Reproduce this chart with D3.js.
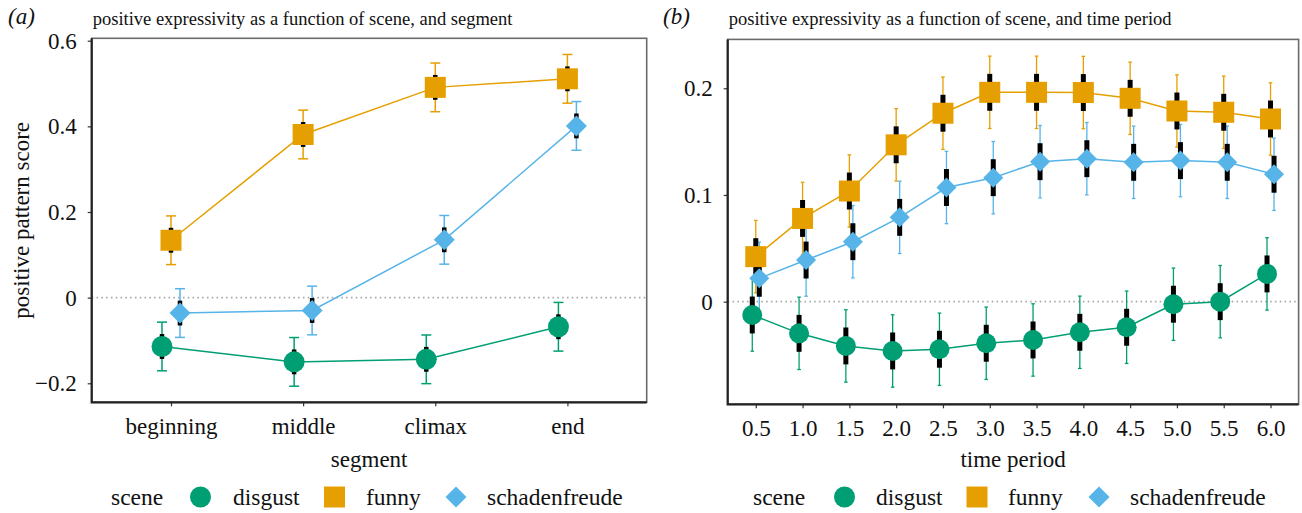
<!DOCTYPE html>
<html><head><meta charset="utf-8">
<script src="https://cdn.jsdelivr.net/npm/d3@7"></script>
<style>body{margin:0;background:#fff}text{font-family:"Liberation Serif","Times New Roman",serif;fill:#111}</style>
</head><body><svg id="c" width="1302" height="513"></svg>
<script>
// ---------- data ----------
const scenes = ["disgust", "funny", "schadenfreude"];
const segments = ["beginning", "middle", "climax", "end"];
const segDisgust = [-0.114, -0.150, -0.144, -0.068];
const segFunny = [0.134, 0.381, 0.491, 0.511];
const segSchaden = [-0.036, -0.030, 0.135, 0.401];
const segSE = [0.029, 0.029, 0.029, 0.029];
const segTicks = [-0.2, 0, 0.2, 0.4, 0.6];

const periods = ["0.5","1.0","1.5","2.0","2.5","3.0","3.5","4.0","4.5","5.0","5.5","6.0"];
const timeDisgust = [-0.0125, -0.0297, -0.0415, -0.0462, -0.0446, -0.039, -0.0359, -0.0287, -0.024, -0.0024, 0.000, 0.026];
const timeFunny = [0.0422, 0.078, 0.1037, 0.147, 0.1766, 0.1962, 0.1962, 0.196, 0.1906, 0.1787, 0.1775, 0.1712];
const timeSchaden = [0.0219, 0.039, 0.0562, 0.079, 0.107, 0.1162, 0.1312, 0.134, 0.1306, 0.1322, 0.1306, 0.1194];
const timeSE = [0.0173, 0.0173, 0.0173, 0.0173, 0.0173, 0.0173, 0.0173, 0.0173, 0.0173, 0.0173, 0.0173, 0.0173];
const timeTicks = [0, 0.1, 0.2];

const colors = {disgust: "#009E73", funny: "#E69F00", schadenfreude: "#56B4E9"};
const FS = "23px";
const FSL = "23.5px";

// ---------- drawing ----------
const svg = d3.select("#c");
svg.append("rect").attr("width",1302).attr("height",513).attr("fill","#fff");

function marker(g, scene, x, y, s) {
  const c = colors[scene];
  if (scene === "disgust") g.append("ellipse").attr("cx",x).attr("cy",y).attr("rx",s.r).attr("ry",s.r).attr("fill",c);
  else if (scene === "funny") g.append("rect").attr("x",x-s.sq/2).attr("y",y-s.sq/2).attr("width",s.sq).attr("height",s.sq).attr("fill",c);
  else g.append("path").attr("d",`M${x},${y-s.dm}L${x+s.dm},${y}L${x},${y+s.dm}L${x-s.dm},${y}Z`).attr("fill",c);
}

function panel(o) {
  const {cats, series, se, ticks, box, ydom, dodgeFrac, tag, title, xtitle, ytitle, sty, fmt} = o;
  const x = d3.scalePoint().domain(cats).range([box.l, box.r]).padding(0.6);
  const y = d3.scaleLinear().domain(ydom).range([box.b, box.t]);
  const g = svg.append("g");
  const step = x.step();
  // zero line
  g.append("line").attr("x1",box.l).attr("x2",box.r).attr("y1",y(0)).attr("y2",y(0))
    .attr("stroke","#aaa").attr("stroke-width",1.6).attr("stroke-dasharray","1.6,3.2");
  const data = scenes.map((s,i)=>({scene:s, vals:series[i], dx:(i-1)*step*dodgeFrac}));
  // CI error bars
  data.forEach(d=>{
    d.vals.forEach((v,j)=>{
      const cx = x(cats[j])+d.dx, lo=y(v-1.96*se[j]), hi=y(v+1.96*se[j]);
      g.append("line").attr("x1",cx).attr("x2",cx).attr("y1",lo).attr("y2",hi).attr("stroke",colors[d.scene]).attr("stroke-width",sty.ew);
      [lo,hi].forEach(yy=>g.append("line").attr("x1",cx-sty.cap).attr("x2",cx+sty.cap).attr("y1",yy).attr("y2",yy).attr("stroke",colors[d.scene]).attr("stroke-width",sty.ew));
    });
  });
  // SE thick black bars
  data.forEach(d=>{
    d.vals.forEach((v,j)=>{
      const cx = x(cats[j])+d.dx;
      g.append("line").attr("x1",cx).attr("x2",cx).attr("y1",y(v-se[j])).attr("y2",y(v+se[j])).attr("stroke","#000").attr("stroke-width",sty.bw);
    });
  });
  // lines
  data.forEach(d=>{
    g.append("path").attr("d", d3.line().x((v,j)=>x(cats[j])+d.dx).y(v=>y(v))(d.vals))
      .attr("fill","none").attr("stroke",colors[d.scene]).attr("stroke-width",sty.lw);
  });
  // points
  data.forEach(d=>d.vals.forEach((v,j)=>marker(g,d.scene,x(cats[j])+d.dx,y(v),sty)));
  // border
  g.append("rect").attr("x",box.l).attr("y",box.t).attr("width",box.r-box.l).attr("height",box.b-box.t)
    .attr("fill","none").attr("stroke","#6b6b6b").attr("stroke-width",1.6);
  // axes
  const ya = g.append("g").attr("transform",`translate(${box.l},0)`)
    .call(d3.axisLeft(y).tickValues(ticks).tickSize(4).tickPadding(11).tickFormat(fmt));
  const xa = g.append("g").attr("transform",`translate(0,${box.b})`)
    .call(d3.axisBottom(x).tickSize(4).tickPadding(11));
  [ya,xa].forEach(a=>{
    a.select(".domain").remove();
    a.selectAll(".tick line").attr("stroke","#333").attr("stroke-width",1.2);
    a.selectAll("text").style("font-family","Liberation Serif").style("font-size",FS).attr("fill","#111");
  });
  g.append("path").attr("d",`M${box.l},${box.t}V${box.b}H${box.r}`).attr("fill","none").attr("stroke","#222").attr("stroke-width",2.2);
  // labels
  g.append("text").attr("x",tag.x).attr("y",24).style("font-size","23px").style("font-style","italic").text(tag.t);
  g.append("text").attr("x",box.l+1).attr("y",25).style("font-size","18.5px").text(title);
  g.append("text").attr("x",(box.l+box.r)/2).attr("y",467).attr("text-anchor","middle").style("font-size",FS).text(xtitle);
  if (ytitle) g.append("text").attr("transform",`translate(29,${(box.t+box.b)/2}) rotate(-90)`).attr("text-anchor","middle").style("font-size",FS).text(ytitle);
  // legend
  const L = o.legend, ly = 497;
  g.append("text").attr("x",L.scene).attr("y",ly).attr("dy","0.32em").style("font-size",FSL).text("scene");
  scenes.forEach((s,i)=>{
    marker(g, s, L.keys[i], ly, {r:10.5, sq:21, dm:10.5});
    g.append("text").attr("x",L.labels[i]).attr("y",ly).attr("dy","0.32em").style("font-size",FSL).text(s);
  });
}

const fmtA = d => d === 0 ? "0" : (d < 0 ? "\u2212" + (-d).toFixed(1) : d.toFixed(1));
panel({cats:segments, series:[segDisgust, segFunny, segSchaden], se:segSE, ticks:segTicks,
  box:{l:91.7, r:646.7, t:38.3, b:402.3}, ydom:[-0.2444, 0.6056], dodgeFrac:0.068,
  tag:{x:8, t:"(a)"}, title:"positive expressivity as a function of scene, and segment",
  xtitle:"segment", ytitle:"positive pattern score", fmt:fmtA,
  sty:{ew:1.5, cap:5, bw:4.5, lw:1.5, r:10.5, sq:21, dm:10.5},
  legend:{scene:111, keys:[200.5, 334.5, 456], labels:[233, 366, 487]}});
panel({cats:periods, series:[timeDisgust, timeFunny, timeSchaden], se:timeSE, ticks:timeTicks,
  box:{l:727.7, r:1298.6, t:39.4, b:404.3}, ydom:[-0.0962, 0.2458], dodgeFrac:0.075,
  tag:{x:663, t:"(b)"}, title:"positive expressivity as a function of scene, and time period",
  xtitle:"time period", ytitle:null, fmt:fmtA,
  sty:{ew:1.3, cap:1.8, bw:5, lw:1.5, r:10, sq:21, dm:10},
  legend:{scene:753, keys:[844.5, 977, 1099], labels:[876, 1008, 1130]}});
</script></body></html>
